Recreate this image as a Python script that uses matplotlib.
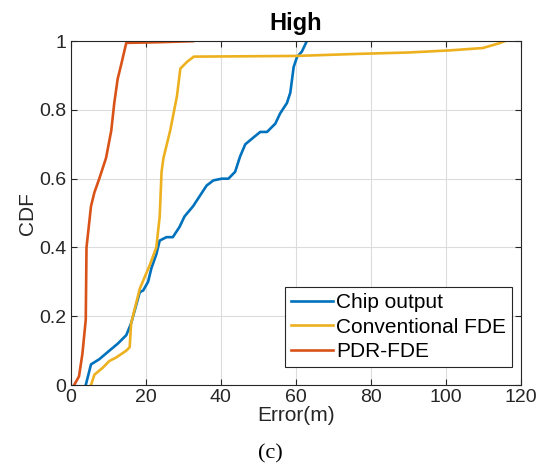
"""CDF of positioning error, high condition (panel c)."""
import matplotlib.pyplot as plt

plt.rcParams['font.family'] = ['Liberation Sans', 'DejaVu Sans']

# Chip output
chip_x = [4.0, 4.7, 5.4, 7.6, 10.3, 12.5, 14.8, 16.1, 18.4, 19.3, 20.6, 21.5, 22.8, 23.7,
          25.5, 27.2, 29.0, 30.3, 32.6, 34.4, 36.2, 38.0, 40.2, 42.0, 43.8, 45.1, 46.5,
          48.7, 50.5, 52.3, 54.5, 55.8, 57.6, 58.5, 59.4, 60.3, 61.6, 62.9]
chip_y = [0.0, 0.03, 0.06, 0.075, 0.10, 0.12, 0.145, 0.18, 0.27, 0.275, 0.30, 0.34, 0.38, 0.42,
          0.43, 0.43, 0.46, 0.49, 0.52, 0.55, 0.58, 0.595, 0.60, 0.60, 0.62, 0.664, 0.70,
          0.72, 0.736, 0.736, 0.76, 0.79, 0.82, 0.85, 0.925, 0.954, 0.97, 1.0]

# Conventional FDE
conv_x = [5.4, 6.3, 8.5, 10.3, 12.1, 14.8, 15.7, 16.1, 18.4, 21.1, 22.8, 23.7, 24.2, 24.7,
          26.5, 28.3, 29.2, 31.0, 32.8, 60.0, 76.6, 90.0, 100.8, 109.8, 114.2, 115.6]
conv_y = [0.0, 0.03, 0.05, 0.07, 0.08, 0.10, 0.11, 0.18, 0.28, 0.35, 0.40, 0.49, 0.62, 0.66,
          0.74, 0.84, 0.92, 0.94, 0.955, 0.957, 0.963, 0.967, 0.973, 0.98, 0.994, 1.0]

# PDR-FDE
pdr_x = [0.9, 2.2, 3.1, 4.0, 4.2, 5.4, 6.3, 7.6, 9.4, 10.8, 11.6, 12.5, 13.4, 14.8, 24.0, 32.6]
pdr_y = [0.0, 0.025, 0.09, 0.19, 0.40, 0.52, 0.56, 0.60, 0.66, 0.74, 0.82, 0.89, 0.93, 0.995,
         0.997, 1.0]

labels = ['Chip output', 'Conventional FDE', 'PDR-FDE']
colors = ['#0072BD', '#EDB120', '#D95319']

fig = plt.figure(figsize=(5.4, 4.73), dpi=100)
ax = fig.add_axes([0.131, 0.186, 0.834, 0.727])

for xs, ys, lab, c in zip([chip_x, conv_x, pdr_x], [chip_y, conv_y, pdr_y], labels, colors):
    ax.plot(xs, ys, color=c, lw=1.9, label=lab)

ax.set_xlim(0, 120)
ax.set_ylim(0, 1)
ax.set_xticks(range(0, 121, 20))
ax.set_yticks([0, 0.2, 0.4, 0.6, 0.8, 1])
ax.set_yticklabels(['0', '0.2', '0.4', '0.6', '0.8', '1'])
ax.grid(True, color='#dcdcdc', lw=0.8)
ax.set_axisbelow(True)
ax.tick_params(labelsize=14, colors='#262626', direction='in', length=4, top=True, right=True,
               labeltop=False, labelright=False, pad=3)
for s in ax.spines.values():
    s.set_color('#262626')
    s.set_linewidth(0.8)

ax.set_xlabel('Error(m)', fontsize=15, color='#262626', labelpad=0)
ax.set_ylabel('CDF', fontsize=15, color='#262626', labelpad=2)
ax.set_title('High', fontsize=17, fontweight='bold', pad=8)

leg = ax.legend(loc='lower right', bbox_to_anchor=(0.98, 0.052), borderaxespad=0,
                fontsize=15, handlelength=2.0, handletextpad=0.15,
                borderpad=0.3, labelspacing=0.25, fancybox=False, framealpha=1,
                edgecolor='#262626')
leg.get_frame().set_linewidth(0.8)

fig.text(0.5, 0.04, '(c)', ha='center', va='center', fontsize=16,
         family=['Liberation Serif', 'DejaVu Serif'])

fig.savefig('out.png', dpi=100, facecolor='white')
